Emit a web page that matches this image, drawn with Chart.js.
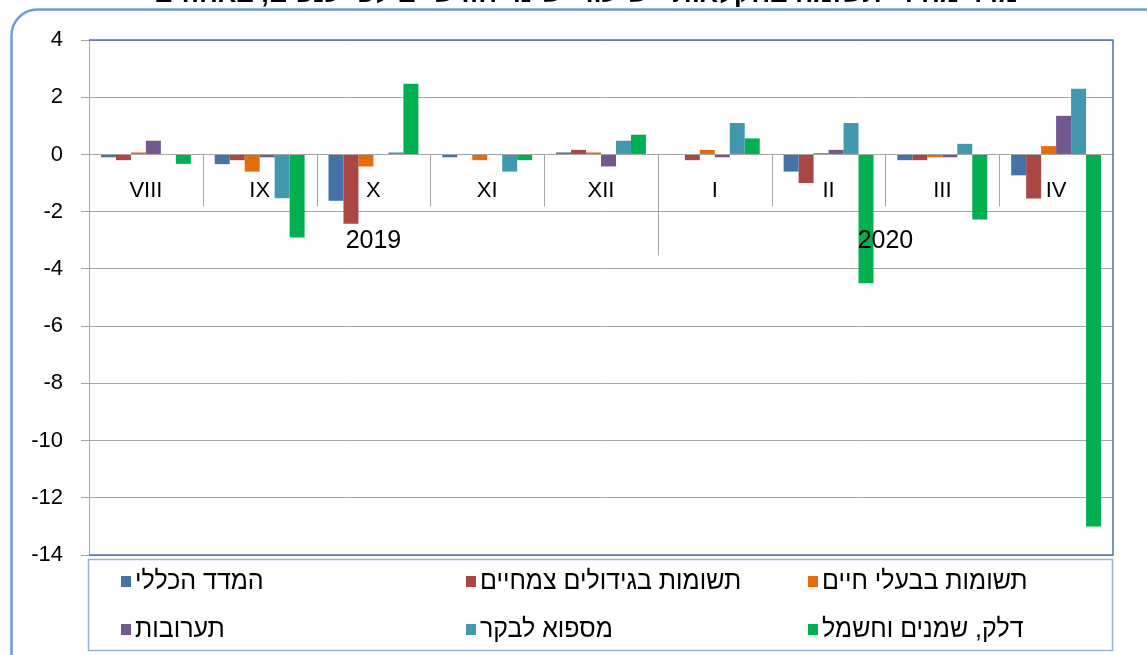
<!DOCTYPE html>
<html lang="he">
<head>
    <meta charset="utf-8">
    <title>Agricultural input prices</title>
    <script src="https://cdn.jsdelivr.net/npm/chart.js"></script>
    <style>
        html, body { margin: 0; padding: 0; background: #fff; }
        canvas { display: block; }
    </style>
</head>
<body>
    <canvas id="myChart" width="1147" height="655"></canvas>
    <script>
        // months, Aug 2019 - Apr 2020
        const categories = ['VIII', 'IX', 'X', 'XI', 'XII', 'I', 'II', 'III', 'IV'];
        const years = ['2019', '2020'];
        const yearStarts = [0, 5]; // index of first month of each year

        const seriesNames = [
            'המדד הכללי',
            'תשומות בגידולים צמחיים',
            'תשומות בבעלי חיים',
            'תערובות',
            'מספוא לבקר',
            'דלק, שמנים וחשמל'
        ];
        const seriesColors = ['#4572a7', '#aa4643', '#e46c0a', '#71588f', '#4198af', '#00b050'];

        const generalIndex = [-0.1, -0.34, -1.62, -0.1, 0.07, 0, -0.6, -0.2, -0.73];
        const plantInputs = [-0.2, -0.2, -2.42, 0, 0.16, -0.2, -1.0, -0.2, -1.54];
        const livestockInputs = [0.07, -0.6, -0.42, -0.2, 0.07, 0.16, 0.05, -0.1, 0.29];
        const feedMixes = [0.48, -0.1, 0, 0, -0.42, -0.1, 0.16, -0.1, 1.35];
        const cattleFodder = [0, -1.53, 0.07, -0.6, 0.48, 1.1, 1.1, 0.37, 2.3];
        const fuelPower = [-0.33, -2.9, 2.47, -0.2, 0.69, 0.56, -4.5, -2.27, -13.0];

        const yTicks = [4, 2, 0, -2, -4, -6, -8, -10, -12, -14];

        const titleText = 'מדד מחירי תשומה בחקלאות - שיעורי שינוי חודשיים לפי ענפים, באחוזים';

        const allSeries = [generalIndex, plantInputs, livestockInputs, feedMixes, cattleFodder, fuelPower];

        const font = '"Liberation Sans", Arial, sans-serif';

        // outer frame, separators, year labels, plot border, legend
        const decorations = {
            id: 'decorations',
            beforeDraw(chart) {
                const ctx = chart.ctx;
                ctx.save();
                ctx.fillStyle = '#fff';
                ctx.fillRect(0, 0, chart.width, chart.height);
                ctx.strokeStyle = '#6e9bd5';
                ctx.lineWidth = 2.5;
                ctx.beginPath();
                ctx.roundRect(11.5, 9.5, chart.width + 20, chart.height + 20, 26);
                ctx.stroke();

                // title, mostly cut off above the top edge
                ctx.fillStyle = '#000';
                ctx.font = 'bold 27px ' + font;
                ctx.direction = 'rtl';
                ctx.textAlign = 'center';
                ctx.textBaseline = 'alphabetic';
                ctx.fillText(titleText, 586, 2);
                ctx.restore();
            },
            afterDatasetsDraw(chart) {
                const ctx = chart.ctx;
                const xs = chart.scales.x;
                const ys = chart.scales.y;
                const area = chart.chartArea;
                const y0 = Math.round(ys.getPixelForValue(0)) + 0.5;
                ctx.save();

                // month separators below the zero line
                ctx.strokeStyle = '#a6a6a6';
                ctx.lineWidth = 1;
                for (let i = 1; i < categories.length; i++) {
                    const x = Math.round((xs.getPixelForValue(i - 1) + xs.getPixelForValue(i)) / 2) + 0.5;
                    const long = yearStarts.includes(i);
                    ctx.beginPath();
                    ctx.moveTo(x, y0);
                    ctx.lineTo(x, y0 + (long ? 101 : 52));
                    ctx.stroke();
                }

                // year labels
                ctx.fillStyle = '#000';
                ctx.font = '25px ' + font;
                ctx.textAlign = 'center';
                ctx.textBaseline = 'middle';
                years.forEach((yr, k) => {
                    const a = yearStarts[k];
                    const b = k + 1 < yearStarts.length ? yearStarts[k + 1] - 1 : categories.length - 1;
                    const x = (xs.getPixelForValue(a) + xs.getPixelForValue(b)) / 2;
                    ctx.fillText(yr, x, y0 + 87);
                });

                // plot area border (top, right, bottom)
                ctx.strokeStyle = '#4f74a8';
                ctx.lineWidth = 1.5;
                ctx.beginPath();
                ctx.moveTo(area.left, area.top);
                ctx.lineTo(area.right, area.top);
                ctx.lineTo(area.right, area.bottom);
                ctx.lineTo(area.left, area.bottom);
                ctx.stroke();
                ctx.restore();
            },
            afterDraw(chart) {
                const ctx = chart.ctx;
                ctx.save();
                ctx.strokeStyle = '#95b3d7';
                ctx.lineWidth = 1.5;
                ctx.strokeRect(88.5, 559.5, 1024, 91);

                const colX = [121, 466, 808];
                const rowY = [582, 630];
                ctx.direction = 'rtl';
                ctx.textAlign = 'left';
                ctx.textBaseline = 'middle';
                chart.data.datasets.forEach((ds, i) => {
                    const x = colX[i % 3];
                    const y = rowY[Math.floor(i / 3)];
                    ctx.fillStyle = ds.backgroundColor;
                    ctx.fillRect(x, y - 6, 10, 11);
                    // slightly condensed legend text, as in the original
                    ctx.save();
                    ctx.translate(x + 14, y);
                    ctx.scale(0.96, 1);
                    ctx.font = '26px ' + font;
                    ctx.fillStyle = '#000';
                    ctx.fillText(ds.label, 0, 0);
                    ctx.restore();
                });
                ctx.restore();
            }
        };

        const ctx = document.getElementById('myChart').getContext('2d');
        const chart = new Chart(ctx, {
            type: 'bar',
            data: {
                labels: categories,
                datasets: allSeries.map((values, i) => ({
                    label: seriesNames[i],
                    data: values,
                    backgroundColor: seriesColors[i],
                    borderWidth: 0,
                    categoryPercentage: 0.79,
                    barPercentage: 1
                }))
            },
            options: {
                responsive: false,
                animation: false,
                devicePixelRatio: 1,
                layout: { padding: { top: 40, right: 34, bottom: 100, left: 0 } },
                plugins: {
                    legend: { display: false },
                    tooltip: { enabled: false }
                },
                scales: {
                    x: {
                        position: { y: 0 },
                        grid: { display: false },
                        border: { display: true, color: '#a6a6a6', width: 1 },
                        ticks: {
                            padding: 15,
                            color: '#000',
                            font: { family: font, size: 22 }
                        }
                    },
                    y: {
                        min: -14,
                        max: 4,
                        afterFit(scale) { scale.width = 89; },
                        afterBuildTicks(scale) {
                            scale.ticks = yTicks.map(v => ({ value: v }));
                        },
                        grid: {
                            color: '#a6a6a6',
                            lineWidth: 1,
                            tickLength: 8,
                            tickColor: '#a6a6a6'
                        },
                        border: { display: true, color: '#a6a6a6', width: 1 },
                        ticks: {
                            padding: 18,
                            color: '#000',
                            font: { family: font, size: 22 }
                        }
                    }
                }
            },
            plugins: [decorations]
        });
    </script>
</body>
</html>
